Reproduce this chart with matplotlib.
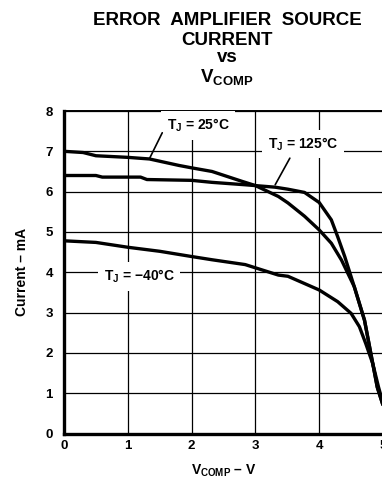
import numpy as np
import matplotlib
matplotlib.use('Agg')
import matplotlib.pyplot as plt

plt.rcParams['font.family'] = ['Liberation Sans', 'DejaVu Sans']
plt.rcParams['font.weight'] = 'bold'
plt.rcParams['mathtext.fontset'] = 'custom'
plt.rcParams['mathtext.rm'] = 'Liberation Sans:bold'
plt.rcParams['mathtext.it'] = 'Liberation Sans:bold'
plt.rcParams['mathtext.bf'] = 'Liberation Sans:bold'
plt.rcParams['mathtext.default'] = 'rm'

# Data
v_25 = [0.0, 0.3, 0.5, 1.0, 1.34, 1.8, 2.0, 2.32, 2.8, 3.0, 3.36, 3.51, 3.77, 4.0, 4.19, 4.35, 4.45, 4.55, 4.71, 4.91, 5.0]
i_25 = [7.0, 6.97, 6.89, 6.85, 6.81, 6.65, 6.59, 6.5, 6.25, 6.15, 5.88, 5.72, 5.39, 5.05, 4.72, 4.30, 3.97, 3.64, 2.81, 1.15, 0.7]

v_125 = [0.0, 0.5, 0.6, 1.2, 1.3, 2.0, 2.32, 2.84, 3.31, 3.51, 3.77, 4.0, 4.19, 4.29, 4.40, 4.55, 4.71, 4.91, 5.0]
i_125 = [6.4, 6.4, 6.36, 6.36, 6.30, 6.28, 6.23, 6.17, 6.11, 6.06, 5.98, 5.73, 5.30, 4.88, 4.39, 3.64, 2.81, 1.15, 0.7]

v_m40 = [0.0, 0.5, 1.0, 1.5, 2.0, 2.32, 2.84, 3.36, 3.51, 3.77, 4.0, 4.29, 4.50, 4.63, 4.73, 4.84, 4.93, 5.0]
i_m40 = [4.78, 4.74, 4.62, 4.52, 4.39, 4.31, 4.19, 3.93, 3.90, 3.72, 3.56, 3.27, 2.98, 2.65, 2.23, 1.73, 1.15, 0.75]

x_ticks = [0, 1, 2, 3, 4, 5]
y_ticks = [0, 1, 2, 3, 4, 5, 6, 7, 8]

# label text, position, leader line (start, end)
labels = ['T$_J$ = 25°C', 'T$_J$ = 125°C', 'T$_J$ = \u221240°C']
label_pos = [(2.1, 7.64), (3.75, 7.18), (1.18, 3.9)]
leaders = [((1.54, 7.46), (1.34, 6.82)), ((3.54, 6.83), (3.31, 6.17)), None]

W, H = 382, 490
fig = plt.figure(figsize=(W / 100, H / 100), dpi=100)
ax = fig.add_axes([64 / W, 1 - 433.5 / H, 319 / W, (433.5 - 111) / H])

for xs, ys in [(v_25, i_25), (v_125, i_125), (v_m40, i_m40)]:
    ax.plot(xs, ys, color='black', lw=2.4, solid_capstyle='butt', zorder=3)

ax.set_xlim(0, 5)
ax.set_ylim(0, 8)
ax.set_xticks(x_ticks)
ax.set_yticks(y_ticks)
ax.tick_params(length=0, labelsize=9.5)
ax.tick_params(axis='x', pad=5)
ax.tick_params(axis='y', pad=8)
for t in ax.get_xticklabels() + ax.get_yticklabels():
    t.set_fontweight('bold')
ax.grid(True, color='black', lw=0.9)
ax.set_axisbelow(True)
ax.spines['left'].set_linewidth(2.4)
ax.spines['bottom'].set_linewidth(2.4)
ax.spines['top'].set_linewidth(1.4)
ax.spines['right'].set_linewidth(1.4)

for txt, (x, y), ld in zip(labels, label_pos, leaders):
    ax.text(x, y, txt, ha='center', va='center', fontsize=10, fontweight='bold', zorder=4,
            bbox=dict(facecolor='white', edgecolor='none', pad=4))
    if ld is not None:
        ax.annotate('', xy=ld[1], xytext=ld[0], zorder=4,
                    arrowprops=dict(arrowstyle='-', lw=1.2, color='black', shrinkA=0, shrinkB=0))

ax.set_xlabel('V$_{COMP}$ \u2013 V', fontsize=10, fontweight='bold', labelpad=7)
ax.set_ylabel('Current \u2013 mA', fontsize=10, fontweight='bold', labelpad=12)

# title lines
title_lines = ['ERROR  AMPLIFIER  SOURCE', 'CURRENT', 'vs', 'V$_{COMP}$']
title_y = [25, 45, 62, 82]
for line, py in zip(title_lines, title_y):
    fig.text(227 / W, 1 - py / H, line, ha='center', va='baseline',
             fontsize=13.5, fontweight='bold')

fig.savefig('out.png', dpi=100)
